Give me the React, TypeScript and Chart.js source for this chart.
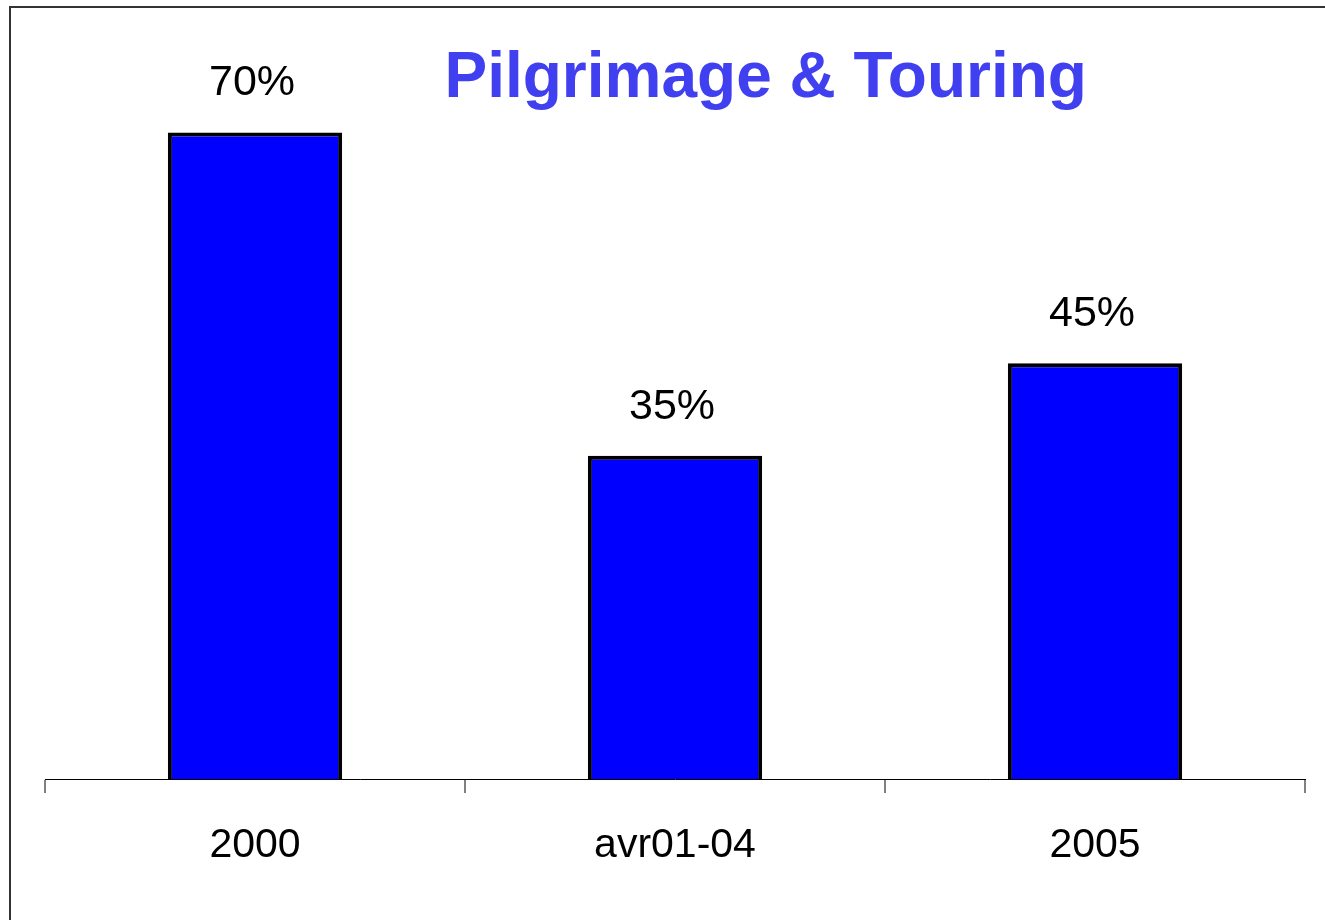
import React, { useEffect, useRef } from "react";
import { Chart, registerables } from "chart.js";

Chart.register(...registerables);

const categories = ["2000", "avr01-04", "2005"];
const values = [70, 35, 45];
const valueLabels = ["70%", "35%", "45%"];
const titleText = "Pilgrimage & Touring";

const FONT = "'Liberation Sans', Arial, Helvetica, sans-serif";

export default function App() {
  const ref = useRef<HTMLCanvasElement | null>(null);

  useEffect(() => {
    if (!ref.current) return;
    const labelPlugin = {
      id: "labelsAndTitle",
      afterDatasetsDraw(chart: any) {
        const ctx = chart.ctx;
        ctx.save();
        const meta = chart.getDatasetMeta(0);
        ctx.fillStyle = "#000";
        ctx.font = `43px ${FONT}`;
        ctx.textAlign = "center";
        ctx.textBaseline = "alphabetic";
        meta.data.forEach((bar: any, i: number) => {
          ctx.fillText(valueLabels[i], bar.x - 3, bar.y - 37);
        });
        ctx.fillStyle = "#4040F0";
        ctx.font = `bold 64px ${FONT}`;
        const ca = chart.chartArea;
        ctx.fillText(titleText, ca.left + ca.width * 0.572, 97);
        ctx.restore();
      },
    };

    const chart = new Chart(ref.current, {
      type: "bar",
      data: {
        labels: categories,
        datasets: [
          {
            data: values,
            backgroundColor: "#0000FF",
            borderColor: "#000000",
            borderWidth: 4,
            barPercentage: 0.415,
            categoryPercentage: 1,
          },
        ],
      },
      options: {
        responsive: false,
        animation: false,
        layout: { padding: { top: 40, left: 45, right: 20, bottom: 0 } },
        plugins: {
          legend: { display: false },
          title: { display: false },
          tooltip: { enabled: false },
        },
        scales: {
          x: {
            offset: true,
            afterFit(scale: any) {
              scale.height = 141;
            },
            border: { display: true, color: "#000000", width: 1 },
            grid: {
              offset: true,
              drawOnChartArea: false,
              drawTicks: true,
              tickLength: 14,
              color: "#808080",
              lineWidth: 2,
            },
            ticks: {
              color: "#000",
              font: { family: FONT, size: 41 },
              padding: 28,
              maxRotation: 0,
            },
          },
          y: {
            display: false,
            min: 0,
            max: 80,
          },
        },
      },
      plugins: [labelPlugin],
    });
    return () => chart.destroy();
  }, []);

  return (
    <div
      style={{
        position: "fixed",
        left: 0,
        top: 0,
        width: 1325,
        height: 920,
        overflow: "hidden",
        background: "#fff",
      }}
    >
      <canvas
        ref={ref}
        width={1325}
        height={920}
        style={{ position: "absolute", left: 0, top: 0, width: 1325, height: 920 }}
      />
      <div
        style={{
          position: "absolute",
          left: 9,
          top: 6,
          width: 1400,
          height: 1000,
          borderLeft: "2px solid #333",
          borderTop: "2px solid #333",
          pointerEvents: "none",
        }}
      />
    </div>
  );
}
